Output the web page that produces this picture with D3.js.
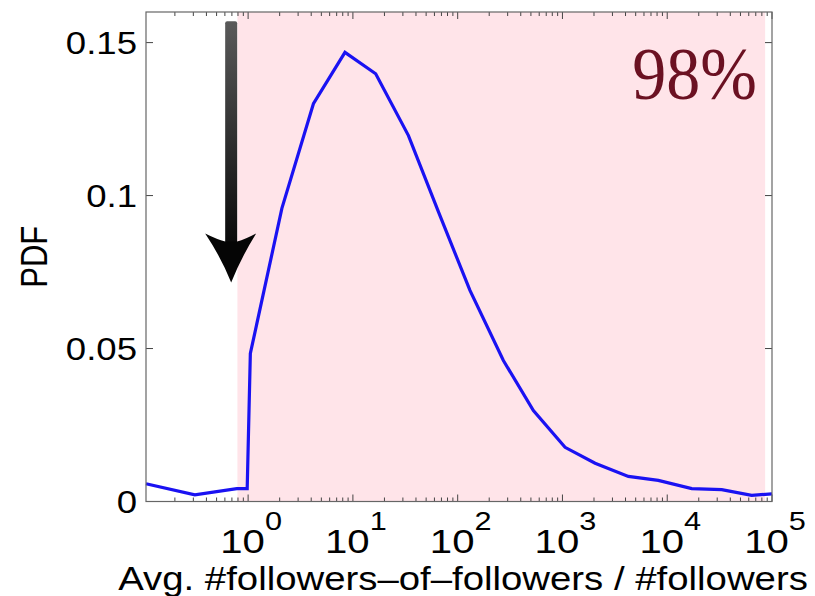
<!DOCTYPE html>
<html>
<head>
<meta charset="utf-8">
<script src="https://cdn.jsdelivr.net/npm/d3@7"></script>
<style>
  html, body { margin: 0; padding: 0; background: #ffffff; }
  svg { display: block; }
</style>
</head>
<body>
<svg id="chart" width="815" height="596"></svg>
<script>
// ---- data ----
const xValues = [0.106, 0.31, 0.78, 0.98, 1.05, 2.1, 4.2, 8.4, 16.5, 33.9, 66, 131, 273, 528, 1059, 2050, 4256, 8222, 17140, 33110, 64000, 100000];
const pdfValues = [0.0058, 0.0022, 0.0042, 0.0042, 0.0484, 0.0958, 0.130, 0.1468, 0.1398, 0.1196, 0.0944, 0.069, 0.0461, 0.0297, 0.0177, 0.0125, 0.0082, 0.0069, 0.0042, 0.0039, 0.0020, 0.0025];
const xDomain = [0.106, 100000];
const yDomain = [0, 0.16];
const yTicks = [0, 0.05, 0.1, 0.15];
const yTickLabels = ["0", "0.05", "0.1", "0.15"];
const xTickExponents = [0, 1, 2, 3, 4, 5];
const shadedRange = [0.79, 86000];
const shadedLabel = "98%";
const arrowX = 0.689;
const arrowTopY = 0.157;
const arrowHeadY = 0.0876;
const arrowTipY = 0.0716;
const xLabel = "Avg. #followers\u2013of\u2013followers / #followers";
const yLabel = "PDF";

(function () {
// ---- layout ----
const pLeft = 146, pRight = 772, pTop = 12, pBottom = 501.5;
const sx = 1.18; // horizontal stretch of text seen in reference
const svg = d3.select("#chart");

const x = d3.scaleLog().domain(xDomain).range([pLeft, pRight]);
const y = d3.scaleLinear().domain(yDomain).range([pBottom, pTop]);

// shaded region
svg.append("rect")
  .attr("x", x(shadedRange[0]))
  .attr("y", pTop)
  .attr("width", x(shadedRange[1]) - x(shadedRange[0]))
  .attr("height", pBottom - pTop)
  .attr("fill", "#ffe4e9");

// ticks
const axisColor = "#444";
const g = svg.append("g").attr("stroke", axisColor).attr("stroke-width", 1).attr("fill", "none");
const minor = [];
for (let e = -1; e <= 4; e++) {
  for (let m = 2; m <= 9; m++) {
    const v = m * Math.pow(10, e);
    if (v >= xDomain[0] && v <= xDomain[1]) minor.push(v);
  }
}
const major = xTickExponents.map(e => Math.pow(10, e));
minor.forEach(v => {
  const px = x(v);
  g.append("line").attr("x1", px).attr("x2", px).attr("y1", pBottom).attr("y2", pBottom - 4);
  g.append("line").attr("x1", px).attr("x2", px).attr("y1", pTop).attr("y2", pTop + 4);
});
major.forEach(v => {
  const px = x(v);
  g.append("line").attr("x1", px).attr("x2", px).attr("y1", pBottom).attr("y2", pBottom - 7);
  g.append("line").attr("x1", px).attr("x2", px).attr("y1", pTop).attr("y2", pTop + 7);
});
yTicks.forEach(v => {
  const py = y(v);
  g.append("line").attr("x1", pLeft).attr("x2", pLeft + 7).attr("y1", py).attr("y2", py);
  g.append("line").attr("x1", pRight).attr("x2", pRight - 7).attr("y1", py).attr("y2", py);
});

// curve
const line = d3.line().x(d => x(d[0])).y(d => y(d[1]));
svg.append("path")
  .datum(xValues.map((v, i) => [v, pdfValues[i]]))
  .attr("d", line)
  .attr("fill", "none")
  .attr("stroke", "#1a12f2")
  .attr("stroke-width", 3.2)
  .attr("stroke-linejoin", "miter");

// frame
svg.append("rect")
  .attr("x", pLeft).attr("y", pTop)
  .attr("width", pRight - pLeft).attr("height", pBottom - pTop)
  .attr("fill", "none").attr("stroke", "#666").attr("stroke-width", 1.2);

// arrow
const defs = svg.append("defs");
const grad = defs.append("linearGradient").attr("id", "shaft").attr("x1", 0).attr("y1", 0).attr("x2", 0).attr("y2", 1);
grad.append("stop").attr("offset", "0%").attr("stop-color", "#5a5a5a");
grad.append("stop").attr("offset", "100%").attr("stop-color", "#0a0a0a");
const ax = x(arrowX), aTop = y(arrowTopY), aHead = y(arrowHeadY), aTip = y(arrowTipY);
svg.append("rect")
  .attr("x", ax - 6).attr("y", aTop)
  .attr("width", 12).attr("height", aHead - aTop + 10)
  .attr("rx", 2)
  .attr("fill", "url(#shaft)");
svg.append("path")
  .attr("d", `M${ax - 26},${aHead} Q${ax - 14},${aHead + 6} ${ax - 6},${aHead + 8} L${ax + 6},${aHead + 8} Q${ax + 14},${aHead + 6} ${ax + 25},${aHead} Q${ax + 10},${aHead + 24} ${ax},${aTip} Q${ax - 10},${aHead + 24} ${ax - 26},${aHead} Z`)
  .attr("fill", "#050505");

// text helper
function stretchedText(px, py, str, opts) {
  const grp = svg.append("g").attr("transform", `translate(${px},${py}) scale(${opts.scale || sx},1)${opts.rotate ? " rotate(" + opts.rotate + ")" : ""}`);
  const t = grp.append("text")
    .attr("font-family", opts.family || "'Liberation Sans', Arial, sans-serif")
    .attr("font-size", opts.size)
    .attr("text-anchor", opts.anchor || "middle")
    .attr("fill", opts.fill || "#000");
  return t.text(str);
}

// y tick labels
yTicks.forEach((v, i) => {
  stretchedText(137, y(v) + 11, yTickLabels[i], { size: 31, anchor: "end" });
});

// x tick labels 10^k
xTickExponents.forEach(e => {
  const px = x(Math.pow(10, e));
  const grp = svg.append("g").attr("transform", `translate(${px + 3},553) scale(${sx},1)`);
  const t = grp.append("text")
    .attr("font-family", "'Liberation Sans', Arial, sans-serif")
    .attr("font-size", 34)
    .attr("text-anchor", "middle")
    .attr("fill", "#000");
  t.append("tspan").text("10");
  t.append("tspan").attr("dy", -23).attr("font-size", 26).text(String(e));
});

// axis labels
stretchedText(463, 590, xLabel, { size: 32.5 });
stretchedText(47, (pTop + pBottom) / 2, yLabel, { size: 31, rotate: -90 });

// 98% label
stretchedText(757, 99, shadedLabel, {
  size: 74, anchor: "end", scale: 0.92,
  family: "'Liberation Serif', 'DejaVu Serif', serif", fill: "#6b1122"
});
})();
</script>
</body>
</html>
